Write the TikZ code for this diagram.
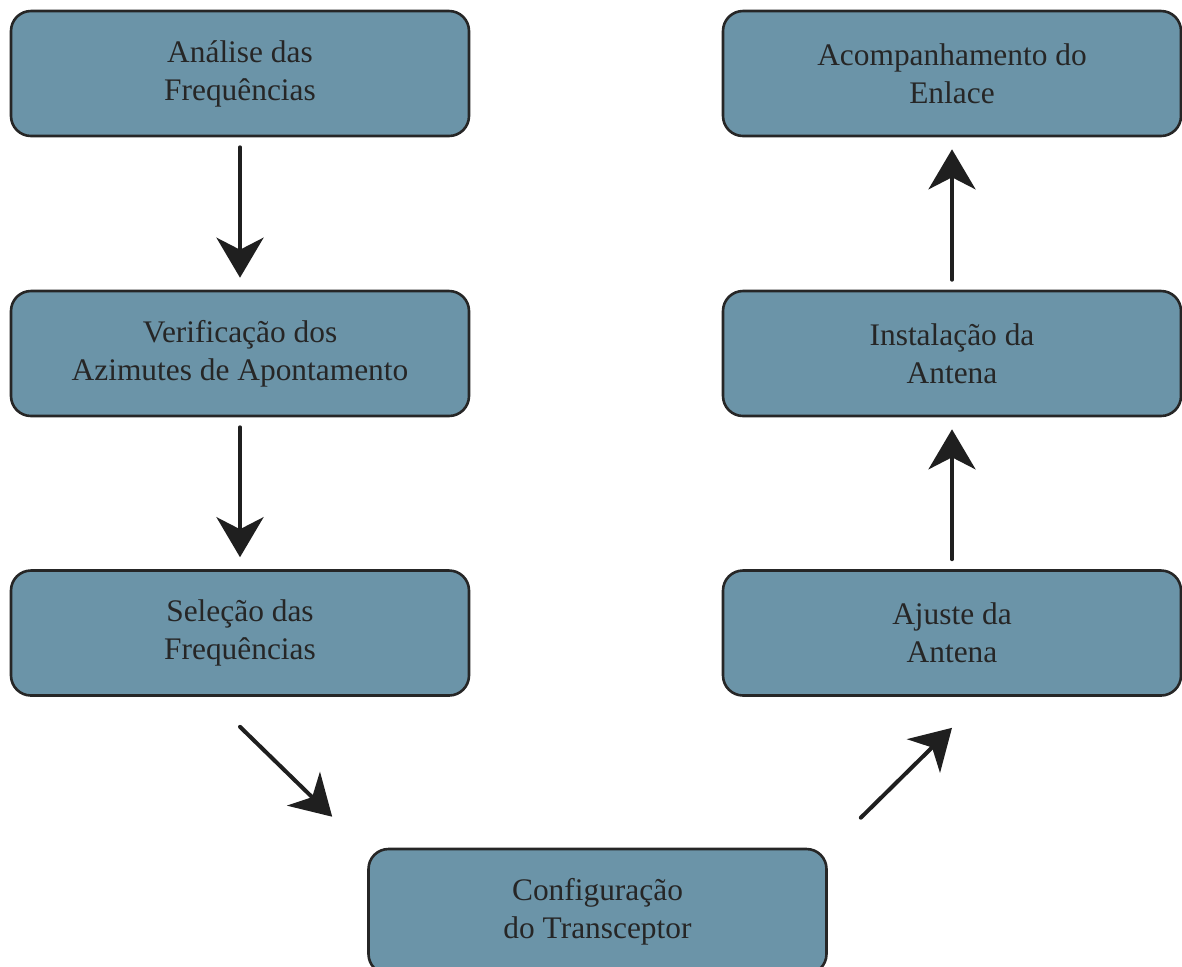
\documentclass[tikz,border=0pt]{standalone}
\usepackage{fontspec}
\setmainfont{Liberation Serif}
\usetikzlibrary{arrows.meta}
\definecolor{boxfill}{HTML}{6B94A8}
\definecolor{boxline}{HTML}{262626}

\begin{document}
\begin{tikzpicture}[x=0.5pt,y=-0.5pt,
    stepbox/.style={draw=boxline,line width=1.3pt,fill=boxfill,rounded corners=10pt,
      minimum width=229pt,minimum height=62.5pt,align=center,
      font=\fontsize{15.7}{19}\selectfont,text=black!85},
    flow/.style={line width=2pt,line cap=round,color=black!88,
      -{Stealth[length=20pt,width=23.5pt,inset=6pt]}},
    vflow/.style={flow,shorten <=5pt,shorten >=6pt}]
  \pgfmathsetmacro\colL{240}
  \pgfmathsetmacro\colR{952}
  \useasboundingbox (0,0) rectangle (1182,966);
  \clip (0,0) rectangle (1182,966);

% left column
  \node[stepbox] (anal) at (\colL,73.5)  {Análise das\\Frequências};
  \node[stepbox] (azim) at (\colL,353.5) {Verificação dos\\Azimutes de Apontamento};
  \node[stepbox] (selc) at (\colL,633)   {Seleção das\\Frequências};

% bottom
  \node[stepbox] (conf) at (597.5,911.5) {Configuração\\do Transceptor};

% right column
  \node[stepbox] (ajst) at (\colR,633)   {Ajuste da\\Antena};
  \node[stepbox] (inst) at (\colR,353.5) {Instalação da\\Antena};
  \node[stepbox] (acmp) at (\colR,73.5)  {Acompanhamento do\\Enlace};

% diagonal end points
  \coordinate (dL1) at ([yshift=-15pt]selc.south);
  \coordinate (dL2) at ([xshift=-17.5pt,yshift=15.5pt]conf.north west);
  \coordinate (dR1) at ([xshift=16.5pt,yshift=15pt]conf.north east);
  \coordinate (dR2) at ([yshift=-15.5pt]ajst.south);

% arrows
  \draw[vflow] (anal) -- (azim);
  \draw[vflow] (azim) -- (selc);
  \draw[flow]  (dL1) -- (dL2);
  \draw[flow]  (dR1) -- (dR2);
  \draw[vflow] (ajst) -- (inst);
  \draw[vflow] (inst) -- (acmp);
\end{tikzpicture}
\end{document}
